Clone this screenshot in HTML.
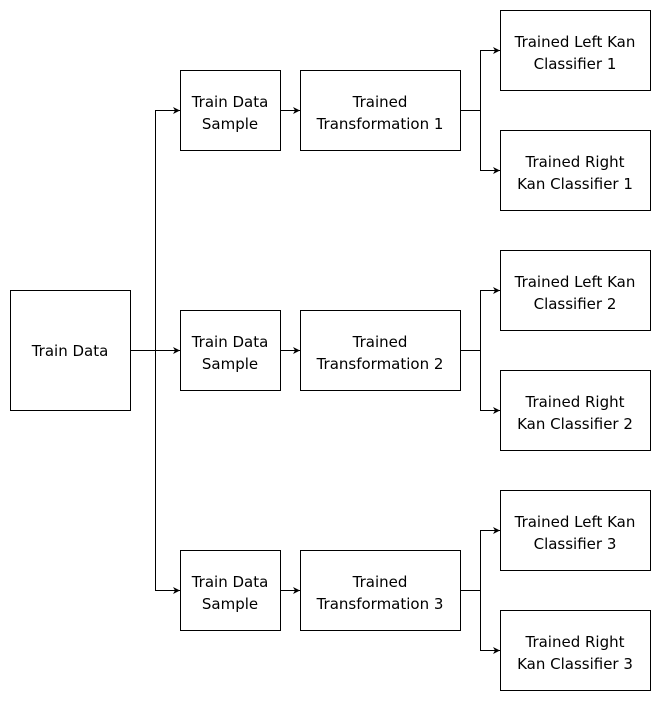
<!DOCTYPE html>
<html><head><meta charset="utf-8"><style>
html,body{margin:0;padding:0;background:#fff;}
text{font-family:"Comic Sans MS","DejaVu Sans","Liberation Sans",sans-serif;font-size:15px;fill:#000;text-anchor:middle;}
</style></head><body>
<svg width="661" height="701" viewBox="0 0 661 701" xmlns="http://www.w3.org/2000/svg">
<defs><marker id="a" markerWidth="8" markerHeight="8" refX="7" refY="4" orient="auto" markerUnits="userSpaceOnUse"><path d="M0,0.5 L7,4 L0,7.5 L2,4 Z" fill="#000"/></marker></defs>
<g fill="#fff" stroke="#000" stroke-width="1">
<rect x="10.5" y="290.5" width="120" height="120"/>
<rect x="180.5" y="70.5" width="100" height="80"/>
<rect x="180.5" y="310.5" width="100" height="80"/>
<rect x="180.5" y="550.5" width="100" height="80"/>
<rect x="300.5" y="70.5" width="160" height="80"/>
<rect x="300.5" y="310.5" width="160" height="80"/>
<rect x="300.5" y="550.5" width="160" height="80"/>
<rect x="500.5" y="10.5" width="150" height="80"/>
<rect x="500.5" y="130.5" width="150" height="80"/>
<rect x="500.5" y="250.5" width="150" height="80"/>
<rect x="500.5" y="370.5" width="150" height="80"/>
<rect x="500.5" y="490.5" width="150" height="80"/>
<rect x="500.5" y="610.5" width="150" height="80"/>
</g>
<g fill="none" stroke="#000" stroke-width="1">
<path d="M130,350.5 H180" marker-end="url(#a)"/>
<path d="M155.5,350 V110.5 H180" marker-end="url(#a)"/>
<path d="M155.5,350 V590.5 H180" marker-end="url(#a)"/>
<path d="M280,110.5 H300" marker-end="url(#a)"/>
<path d="M280,350.5 H300" marker-end="url(#a)"/>
<path d="M280,590.5 H300" marker-end="url(#a)"/>
<path d="M460,110.5 H480.5 V50.5 H500" marker-end="url(#a)"/>
<path d="M480.5,110 V170.5 H500" marker-end="url(#a)"/>
<path d="M460,350.5 H480.5 V290.5 H500" marker-end="url(#a)"/>
<path d="M480.5,350 V410.5 H500" marker-end="url(#a)"/>
<path d="M460,590.5 H480.5 V530.5 H500" marker-end="url(#a)"/>
<path d="M480.5,590 V650.5 H500" marker-end="url(#a)"/>
</g>
<text x="70" y="356">Train Data</text>
<text x="230" y="107">Train Data</text><text x="230" y="129">Sample</text>
<text x="230" y="347">Train Data</text><text x="230" y="369">Sample</text>
<text x="230" y="587">Train Data</text><text x="230" y="609">Sample</text>
<text x="380" y="107">Trained</text><text x="380" y="129">Transformation 1</text>
<text x="380" y="347">Trained</text><text x="380" y="369">Transformation 2</text>
<text x="380" y="587">Trained</text><text x="380" y="609">Transformation 3</text>
<text x="575" y="47">Trained Left Kan</text><text x="575" y="69">Classifier 1</text>
<text x="575" y="167">Trained Right</text><text x="575" y="189">Kan Classifier 1</text>
<text x="575" y="287">Trained Left Kan</text><text x="575" y="309">Classifier 2</text>
<text x="575" y="407">Trained Right</text><text x="575" y="429">Kan Classifier 2</text>
<text x="575" y="527">Trained Left Kan</text><text x="575" y="549">Classifier 3</text>
<text x="575" y="647">Trained Right</text><text x="575" y="669">Kan Classifier 3</text>
</svg>
</body></html>
